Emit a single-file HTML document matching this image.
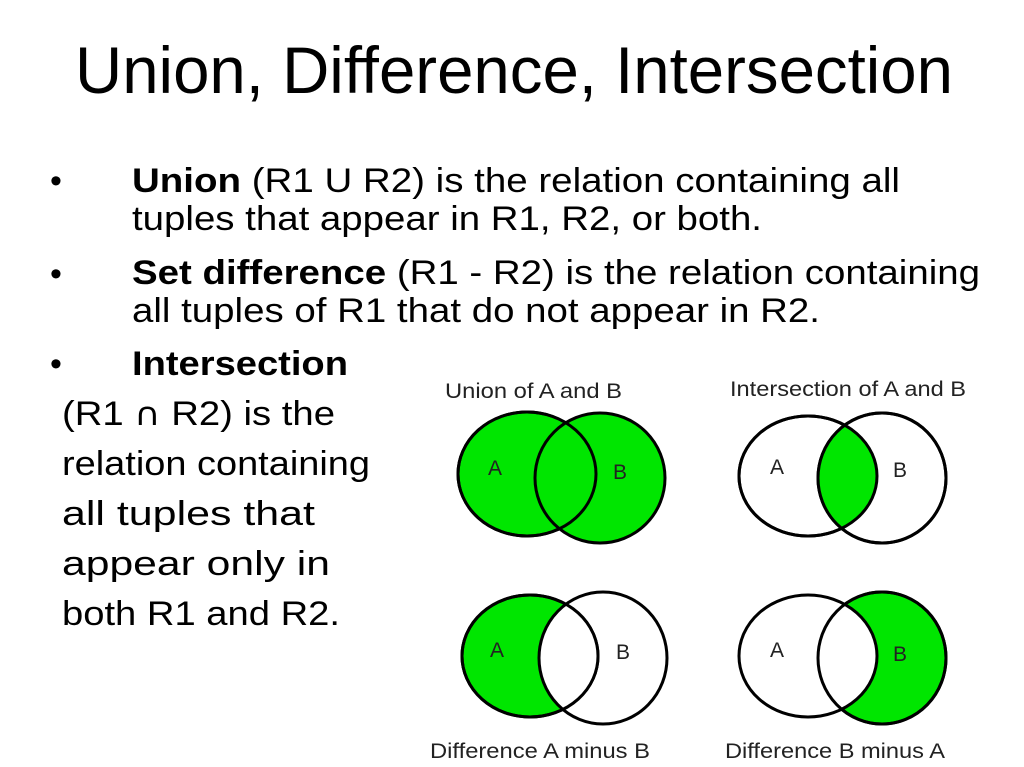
<!DOCTYPE html>
<html><head><meta charset="utf-8"><style>html,body{margin:0;padding:0;background:#fff}svg{display:block}</style></head>
<body>
<svg width="1024" height="767" viewBox="0 0 1024 767" xmlns="http://www.w3.org/2000/svg" font-family="Liberation Sans, Arial, sans-serif">
<rect width="1024" height="767" fill="#fff"/>
<text x="75" y="93" font-size="66" textLength="878" lengthAdjust="spacingAndGlyphs">Union, Difference, Intersection</text>
<g font-size="34" fill="#000">
<text x="50" y="192">•</text><text x="50" y="285">•</text><text x="50" y="375">•</text>
<text x="132" y="192" textLength="768" lengthAdjust="spacingAndGlyphs"><tspan font-weight="bold">Union</tspan> (R1 U R2) is the relation containing all</text>
<text x="132" y="230" textLength="630" lengthAdjust="spacingAndGlyphs">tuples that appear in R1, R2, or both.</text>
<text x="132" y="284" textLength="848" lengthAdjust="spacingAndGlyphs"><tspan font-weight="bold">Set difference</tspan> (R1 - R2) is the relation containing</text>
<text x="132" y="322" textLength="688" lengthAdjust="spacingAndGlyphs">all tuples of R1 that do not appear in R2.</text>
<text x="132" y="375" font-weight="bold" textLength="216" lengthAdjust="spacingAndGlyphs">Intersection</text>
<text x="62" y="425" textLength="273" lengthAdjust="spacingAndGlyphs">(R1 <tspan font-family="DejaVu Sans" font-size="32">∩</tspan> R2) is the</text>
<text x="62" y="475" textLength="308" lengthAdjust="spacingAndGlyphs">relation containing</text>
<text x="62" y="525" textLength="253" lengthAdjust="spacingAndGlyphs">all tuples that</text>
<text x="62" y="575" textLength="268" lengthAdjust="spacingAndGlyphs">appear only in</text>
<text x="62" y="625" textLength="278" lengthAdjust="spacingAndGlyphs">both R1 and R2.</text>
</g>
<defs>
<clipPath id="cA2"><ellipse cx="808" cy="476" rx="69" ry="60"/></clipPath>
<clipPath id="cB3"><ellipse cx="603" cy="658" rx="64" ry="66"/></clipPath>
</defs>
<g font-size="21" fill="#222">
<text x="445" y="398" textLength="177" lengthAdjust="spacingAndGlyphs">Union of A and B</text>
<text x="730" y="396" textLength="236" lengthAdjust="spacingAndGlyphs">Intersection of A and B</text>
<text x="430" y="758" textLength="220" lengthAdjust="spacingAndGlyphs">Difference A minus B</text>
<text x="725" y="758" textLength="220" lengthAdjust="spacingAndGlyphs">Difference B minus A</text>
</g>
<g stroke="#000" stroke-width="3">
<ellipse cx="527" cy="474" rx="69" ry="62" fill="#00e600"/>
<ellipse cx="600" cy="478" rx="65" ry="65" fill="#00e600"/>
<ellipse cx="527" cy="474" rx="69" ry="62" fill="none"/>
<ellipse cx="808" cy="476" rx="69" ry="60" fill="#fff"/>
<ellipse cx="882" cy="478" rx="64" ry="65" fill="#fff"/>
<ellipse cx="882" cy="478" rx="64" ry="65" fill="#00e600" stroke="none" clip-path="url(#cA2)"/>
<ellipse cx="808" cy="476" rx="69" ry="60" fill="none"/>
<ellipse cx="882" cy="478" rx="64" ry="65" fill="none"/>
<ellipse cx="530" cy="656" rx="68" ry="61" fill="#00e600"/>
<ellipse cx="530" cy="656" rx="68" ry="61" fill="#fff" stroke="none" clip-path="url(#cB3)"/>
<ellipse cx="530" cy="656" rx="68" ry="61" fill="none"/>
<ellipse cx="603" cy="658" rx="64" ry="66" fill="none"/>
<ellipse cx="882" cy="658" rx="64" ry="66" fill="#00e600"/>
<ellipse cx="808" cy="656" rx="69" ry="61" fill="#fff"/>
<ellipse cx="882" cy="658" rx="64" ry="66" fill="none"/>
</g>
<g font-size="21" fill="#222">
<text x="488" y="475">A</text><text x="613" y="479">B</text>
<text x="770" y="474">A</text><text x="893" y="477">B</text>
<text x="490" y="657">A</text><text x="616" y="659">B</text>
<text x="770" y="657">A</text><text x="893" y="661">B</text>
</g>
</svg>
</body></html>
